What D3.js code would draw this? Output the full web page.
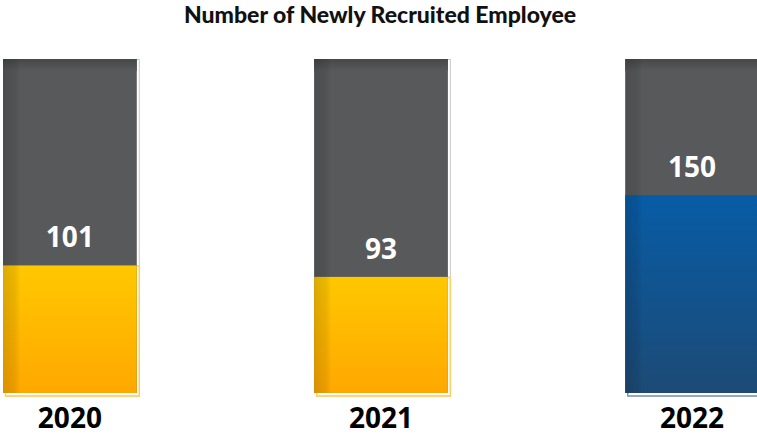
<!DOCTYPE html>
<html><head><meta charset="utf-8">
<script src="https://cdn.jsdelivr.net/npm/d3@7/dist/d3.min.js"></script>
<style>body{margin:0;background:#fff}svg{display:block}</style>
</head><body>
<script>
const years = ["2020", "2021", "2022"];
const recruits = [101, 93, 150];
const fillColors = [["#ffc800", "#ffa800"], ["#ffc800", "#ffa800"], ["#075ca6", "#1d4a75"]];
const outlineColors = ["#ffd060", "#ffd060", "#7f96b3"];
const title = "Number of Newly Recruited Employee";

const W = 757, H = 436;
const svg = d3.select("body").append("svg").attr("width", W).attr("height", H);
const defs = svg.append("defs");

const x = d3.scaleBand().domain(years).range([3, 759]).paddingInner(0.57).paddingOuter(0);
const y = d3.scaleLinear().domain([12, 245]).range([393, 59]);
const yTop = y.range()[1], yBase = y.range()[0];

fillColors.forEach((c, i) => {
  const g = defs.append("linearGradient").attr("id", "fill" + i).attr("x1", 0).attr("y1", 0).attr("x2", 0).attr("y2", 1);
  g.append("stop").attr("offset", "0%").attr("stop-color", c[0]);
  g.append("stop").attr("offset", "100%").attr("stop-color", c[1]);
});
const gt = defs.append("linearGradient").attr("id", "greyTop").attr("x1", 0).attr("y1", 0).attr("x2", 0).attr("y2", 1);
gt.append("stop").attr("offset", "0%").attr("stop-color", "#464749");
gt.append("stop").attr("offset", "100%").attr("stop-color", "#58595b");
const ls = defs.append("linearGradient").attr("id", "leftShade").attr("x1", 0).attr("y1", 0).attr("x2", 1).attr("y2", 0);
ls.append("stop").attr("offset", "0%").attr("stop-color", "#000").attr("stop-opacity", 0.14);
ls.append("stop").attr("offset", "9%").attr("stop-color", "#000").attr("stop-opacity", 0.08);
ls.append("stop").attr("offset", "13%").attr("stop-color", "#000").attr("stop-opacity", 0);
ls.append("stop").attr("offset", "100%").attr("stop-color", "#000").attr("stop-opacity", 0);

svg.append("text").attr("x", 380).attr("y", 23).attr("text-anchor", "middle")
  .attr("font-family", "Lato, Roboto, sans-serif").attr("font-weight", 900).attr("font-size", 23)
  .attr("fill", "#111").text(title);

const g = svg.selectAll("g.bar").data(years.map((yr, i) => ({ yr, v: recruits[i], i })))
  .join("g").attr("class", "bar");

g.append("rect")
  .attr("x", d => x(d.yr) + 2.5).attr("y", yTop + 0.5)
  .attr("width", x.bandwidth()).attr("height", yBase - yTop + 2.5)
  .attr("fill", "none").attr("stroke", "#c8c8c8").attr("stroke-width", 1);
g.append("rect")
  .attr("x", d => x(d.yr) + 2.5).attr("y", d => y(d.v) + 0.5)
  .attr("width", x.bandwidth()).attr("height", d => yBase - y(d.v) + 2.5)
  .attr("fill", "none").attr("stroke", d => outlineColors[d.i]).attr("stroke-width", 1.5);

g.append("rect")
  .attr("x", d => x(d.yr)).attr("y", yTop)
  .attr("width", x.bandwidth()).attr("height", yBase - yTop)
  .attr("fill", "#58595b");
g.append("rect")
  .attr("x", d => x(d.yr)).attr("y", yTop)
  .attr("width", x.bandwidth()).attr("height", 12)
  .attr("fill", "url(#greyTop)");
g.append("rect")
  .attr("x", d => x(d.yr)).attr("y", d => y(d.v))
  .attr("width", x.bandwidth()).attr("height", d => yBase - y(d.v))
  .attr("fill", d => `url(#fill${d.i})`);
g.append("rect")
  .attr("x", d => x(d.yr)).attr("y", yTop)
  .attr("width", x.bandwidth()).attr("height", yBase - yTop)
  .attr("fill", "url(#leftShade)");

g.append("text")
  .attr("x", d => x(d.yr) + x.bandwidth() / 2).attr("y", d => y(d.v) - 18)
  .attr("text-anchor", "middle").attr("font-family", "'Open Sans', sans-serif")
  .attr("font-weight", 700).attr("font-size", 28).attr("fill", "#fff")
  .text(d => d.v);

g.append("text")
  .attr("x", d => x(d.yr) + x.bandwidth() / 2).attr("y", 428)
  .attr("text-anchor", "middle").attr("font-family", "'Open Sans', sans-serif")
  .attr("font-weight", 700).attr("font-size", 28).attr("fill", "#000")
  .text(d => d.yr);
</script>
</body></html>
